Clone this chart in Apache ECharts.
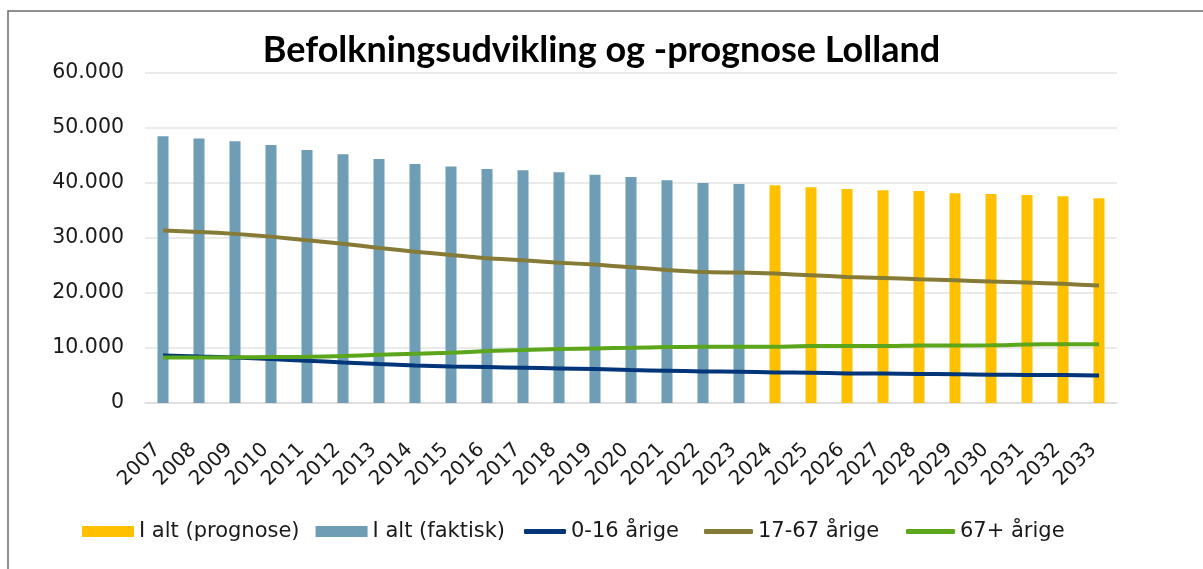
<!DOCTYPE html>
<html>
<head>
<meta charset="utf-8">
<script src="https://cdn.jsdelivr.net/npm/echarts@6/dist/echarts.min.js"></script>
<style>
  html, body { margin: 0; padding: 0; background: #fff; }
  #chart { width: 1203px; height: 569px; }
</style>
</head>
<body>
<div id="chart"></div>
<script>
const years = ['2007', '2008', '2009', '2010', '2011', '2012', '2013', '2014', '2015', '2016', '2017', '2018', '2019', '2020',
  '2021', '2022', '2023', '2024', '2025', '2026', '2027', '2028', '2029', '2030', '2031', '2032', '2033']
// I alt (faktisk) 2007-2023, rest empty
const totalActual = [48500, 48100, 47600, 46900, 46000, 45250, 44350, 43450, 43000, 42550, 42300, 41950, 41500, 41100,
  40500, 40000, 39800, null, null, null, null, null, null, null, null, null, null]
// I alt (prognose) 2024-2033
const totalForecast = [null, null, null, null, null, null, null, null, null, null, null, null, null, null,
  null, null, null, 39600, 39250, 38900, 38700, 38550, 38150, 38000, 37800, 37600, 37250]
const age0to16 = [8650, 8450, 8280, 7990, 7680, 7370, 7080, 6830, 6650, 6530, 6410, 6290, 6170, 5990,
  5870, 5740, 5680, 5560, 5500, 5380, 5350, 5260, 5250, 5140, 5110, 5090, 5010]
const age17to67 = [31350, 31100, 30750, 30250, 29600, 28970, 28200, 27520, 26920, 26320, 25960, 25520, 25160, 24690,
  24200, 23830, 23710, 23530, 23230, 22930, 22740, 22500, 22330, 22070, 21890, 21660, 21350]
const age67plus = [8280, 8280, 8300, 8350, 8400, 8530, 8770, 8950, 9130, 9440, 9620, 9800, 9920, 10040,
  10170, 10220, 10220, 10230, 10350, 10350, 10350, 10460, 10470, 10480, 10640, 10670, 10700]

const chart = echarts.init(document.getElementById('chart'))
const font = 'DejaVu Sans'
const legendText = { fontFamily: font, fontSize: 21, color: '#1a1a1a' }

function fmt (v) {
  return String(v).replace(/\B(?=(\d{3})+(?!\d))/g, '.')
}

// one legend per line series so each sits where the original puts it
function lineLegend (name, left, width) {
  return {
    left: left,
    top: 521,
    padding: 0,
    itemWidth: width,
    itemHeight: 5,
    icon: 'roundRect',
    textStyle: legendText,
    data: [name]
  }
}

const option = {
  animation: false,
  backgroundColor: '#fff',
  title: {
    text: 'Befolkningsudvikling og -prognose Lolland',
    left: 'center',
    top: 27,
    textStyle: { fontFamily: 'Lato', fontWeight: 'bold', fontSize: 36, color: '#000' }
  },
  graphic: [{
    type: 'rect',
    shape: { x: 8, y: 11, width: 1400, height: 800 },
    style: { fill: 'none', stroke: '#6b6b6b', lineWidth: 1.5 },
    silent: true
  }],
  legend: [
    {
      left: 82,
      top: 521,
      padding: 0,
      itemWidth: 52,
      itemHeight: 11,
      itemGap: 16,
      icon: 'rect',
      textStyle: legendText,
      data: ['I alt (prognose)', 'I alt (faktisk)']
    },
    lineLegend('0-16 årige', 524, 42),
    lineLegend('17-67 årige', 704, 49),
    lineLegend('67+ årige', 906, 49)
  ],
  grid: { left: 145, right: 86, top: 73, bottom: 166 },
  xAxis: {
    type: 'category',
    data: years,
    axisTick: { show: false },
    axisLine: { lineStyle: { color: '#dcdcdc', width: 1.5 } },
    axisLabel: {
      rotate: 45,
      margin: 38,
      padding: [0, 8, 0, 0],
      fontFamily: font,
      fontSize: 20,
      color: '#1a1a1a',
      interval: 0
    }
  },
  yAxis: {
    type: 'value',
    min: 0,
    max: 60000,
    interval: 10000,
    axisLine: { show: false },
    axisTick: { show: false },
    splitLine: { lineStyle: { color: '#e3e3e3', width: 1.5 } },
    axisLabel: { fontFamily: font, fontSize: 20.5, color: '#1a1a1a', margin: 21, formatter: fmt }
  },
  series: [
    {
      name: 'I alt (prognose)',
      type: 'bar',
      data: totalForecast,
      barWidth: 11,
      barGap: '-100%',
      itemStyle: { color: '#ffc000' }
    },
    {
      name: 'I alt (faktisk)',
      type: 'bar',
      data: totalActual,
      barWidth: 11,
      barGap: '-100%',
      itemStyle: { color: '#6f9db6' }
    },
    {
      name: '0-16 årige',
      type: 'line',
      data: age0to16,
      smooth: 0.2,
      symbol: 'none',
      itemStyle: { color: '#00357a' },
      lineStyle: { color: '#00357a', width: 4 }
    },
    {
      name: '17-67 årige',
      type: 'line',
      data: age17to67,
      smooth: 0.2,
      symbol: 'none',
      itemStyle: { color: '#857b37' },
      lineStyle: { color: '#857b37', width: 4 }
    },
    {
      name: '67+ årige',
      type: 'line',
      data: age67plus,
      smooth: 0.2,
      symbol: 'none',
      itemStyle: { color: '#5ba61b' },
      lineStyle: { color: '#5ba61b', width: 4 }
    }
  ]
}

chart.setOption(option)
</script>
</body>
</html>
